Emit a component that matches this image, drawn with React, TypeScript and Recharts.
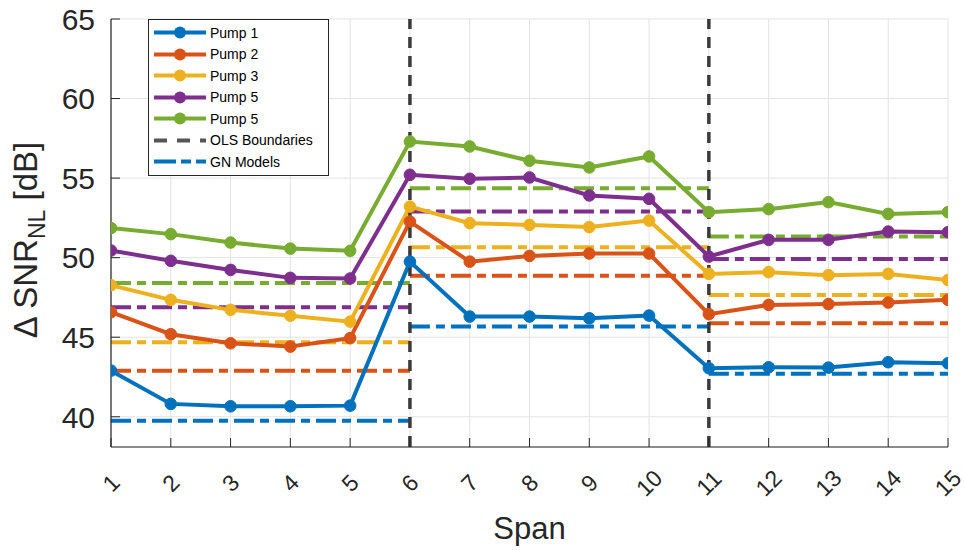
import { LineChart, Line, XAxis, YAxis, CartesianGrid, Legend, ReferenceLine } from 'recharts'

const spans = [1, 2, 3, 4, 5, 6, 7, 8, 9, 10, 11, 12, 13, 14, 15]
const pumpNames = ['Pump 1', 'Pump 2', 'Pump 3', 'Pump 5', 'Pump 5']

const pump1 = [42.9, 40.81, 40.66, 40.66, 40.7, 49.75, 46.3, 46.3, 46.19, 46.36, 43.05, 43.11, 43.09, 43.43, 43.36]
const pump2 = [46.57, 45.19, 44.62, 44.41, 44.94, 52.27, 49.75, 50.11, 50.26, 50.26, 46.45, 47.03, 47.08, 47.18, 47.35]
const pump3 = [48.27, 47.35, 46.72, 46.35, 45.98, 53.21, 52.17, 52.06, 51.92, 52.33, 48.98, 49.09, 48.9, 48.98, 48.6]
const pump4 = [50.45, 49.8, 49.23, 48.73, 48.69, 55.21, 54.96, 55.04, 53.91, 53.7, 50.07, 51.12, 51.12, 51.64, 51.6]
const pump5 = [51.86, 51.48, 50.95, 50.57, 50.43, 57.3, 56.99, 56.09, 55.67, 56.36, 52.86, 53.05, 53.49, 52.75, 52.86]

// GN model levels, one per OLS section
const gnEdges = [1, 6, 11, 15]
const gn1 = [39.75, 45.67, 42.71]
const gn2 = [42.9, 48.87, 45.88]
const gn3 = [44.69, 50.66, 47.66]
const gn4 = [46.89, 52.9, 49.91]
const gn5 = [48.4, 54.37, 51.33]

const olsBoundaries = [6, 11]
const yTicks = [40, 45, 50, 55, 60, 65]

const colors = ['#0072BD', '#D95319', '#EDB120', '#7E2F8E', '#77AC30']
const pumps = [pump1, pump2, pump3, pump4, pump5]
const gnModels = [gn1, gn2, gn3, gn4, gn5]

const chartData = spans.map((span, i) => {
  const row: Record<string, number> = { span }
  pumps.forEach((p, k) => {
    row[`p${k}`] = p[i]
  })
  return row
})

const gnData = gnModels.map(levels =>
  levels.flatMap((v, s) => [
    { span: gnEdges[s], gn: v },
    { span: gnEdges[s + 1], gn: v },
    { span: gnEdges[s + 1], gn: null },
  ])
)

const INK = '#262626'
const GN_DASH = '20 6 9 6'
const OLS_DASH = '11 8'
const X_TICK_MARGIN = 36

const XTick = ({ x, y, payload }: any) => (
  <g>
    <line x1={x} x2={x} y1={y - X_TICK_MARGIN} y2={y - X_TICK_MARGIN - 9} stroke={INK} />
    <text
      x={x}
      y={y}
      textAnchor="middle"
      dominantBaseline="central"
      transform={`rotate(-45 ${x} ${y})`}
      fontSize={23}
      fill={INK}
    >
      {payload.value}
    </text>
  </g>
)

const YTick = ({ x, y, payload }: any) => (
  <g>
    <line x1={x + 16} x2={x + 25} y1={y} y2={y} stroke={INK} />
    <text x={x} y={y} dy="0.36em" textAnchor="end" fontSize={30} fill={INK}>
      {payload.value}
    </text>
  </g>
)

const YLabel = ({ viewBox }: any) => {
  const cx = 37
  const cy = viewBox.y + viewBox.height / 2 + 7
  return (
    <text x={cx} y={cy} textAnchor="middle" transform={`rotate(-90 ${cx} ${cy})`} fontSize={33} fill={INK}>
      <tspan>Δ SNR</tspan>
      <tspan dy={8} fontSize={23}>NL</tspan>
      <tspan dy={-8}> [dB]</tspan>
    </text>
  )
}

const XLabel = ({ viewBox }: any) => (
  <text x={viewBox.x + viewBox.width / 2} y={viewBox.y + 92} textAnchor="middle" fontSize={31} fill={INK}>
    Span
  </text>
)

const LegendBox = ({ payload }: any) => {
  const rows = (payload || [])
    .filter((p: any) => p.type !== 'none' && p.dataKey !== 'gn')
    .map((p: any) => ({ label: p.value, color: p.color, kind: 'pump' }))
  rows.push({ label: 'OLS Boundaries', color: '#555555', kind: 'ols' })
  rows.push({ label: 'GN Models', color: colors[0], kind: 'gn' })
  return (
    <div
      style={{
        background: 'white',
        border: `1px solid ${INK}`,
        padding: '2px 0 2px 0',
        boxSizing: 'border-box',
        width: 181,
        height: 157,
        fontSize: 14,
        color: 'black',
      }}
    >
      {rows.map((r: any, i: number) => (
        <div key={i} style={{ display: 'flex', alignItems: 'center', height: 21.5 }}>
          <svg width={61} height={21} style={{ flex: 'none' }}>
            <line
              x1={5}
              x2={57}
              y1={10.5}
              y2={10.5}
              stroke={r.color}
              strokeWidth={4}
              strokeDasharray={r.kind === 'ols' ? '13 10' : r.kind === 'gn' ? '22 5 10 5' : undefined}
            />
            {r.kind === 'pump' && <circle cx={31} cy={10.5} r={6} fill={r.color} />}
          </svg>
          <span style={{ whiteSpace: 'nowrap' }}>{r.label}</span>
        </div>
      ))}
    </div>
  )
}

export default function App() {
  return (
    <div style={{ position: 'absolute', left: 0, top: 0, fontFamily: '"Liberation Sans", Arial, sans-serif' }}>
      <LineChart width={964} height={550} data={chartData} margin={{ top: 19, right: 16, bottom: 0, left: 0 }}>
        <CartesianGrid stroke="#e3e3e3" strokeWidth={1} />
        <XAxis
          dataKey="span"
          type="number"
          domain={[1, 15]}
          ticks={spans}
          interval={0}
          height={103}
          tickSize={0}
          tickMargin={X_TICK_MARGIN}
          tick={<XTick />}
          axisLine={{ stroke: INK, strokeWidth: 1 }}
          label={{ content: <XLabel /> }}
          allowDataOverflow
        />
        <YAxis
          type="number"
          domain={[38.1, 65]}
          ticks={yTicks}
          width={111}
          tickSize={0}
          tickMargin={16}
          tick={<YTick />}
          axisLine={{ stroke: INK, strokeWidth: 1.2 }}
          label={{ content: <YLabel /> }}
          allowDataOverflow
        />
        <Legend
          layout="vertical"
          align="center"
          verticalAlign="middle"
          wrapperStyle={{ left: 148, top: 19, width: 181, height: 157 }}
          content={<LegendBox />}
        />
        {gnData.map((d, k) => (
          <Line
            key={`gn${k}`}
            data={d}
            dataKey="gn"
            stroke={colors[k]}
            strokeWidth={4}
            strokeDasharray={GN_DASH}
            dot={false}
            activeDot={false}
            legendType="none"
            isAnimationActive={false}
          />
        ))}
        {pumps.map((_, k) => (
          <Line
            key={`p${k}`}
            dataKey={`p${k}`}
            name={pumpNames[k]}
            stroke={colors[k]}
            strokeWidth={4}
            dot={{ r: 5.8, fill: colors[k], stroke: colors[k], strokeWidth: 1 }}
            activeDot={false}
            isAnimationActive={false}
          />
        ))}
        {olsBoundaries.map(b => (
          <ReferenceLine key={b} x={b} stroke="#3a3a3a" strokeWidth={3.5} strokeDasharray={OLS_DASH} />
        ))}
      </LineChart>
    </div>
  )
}
